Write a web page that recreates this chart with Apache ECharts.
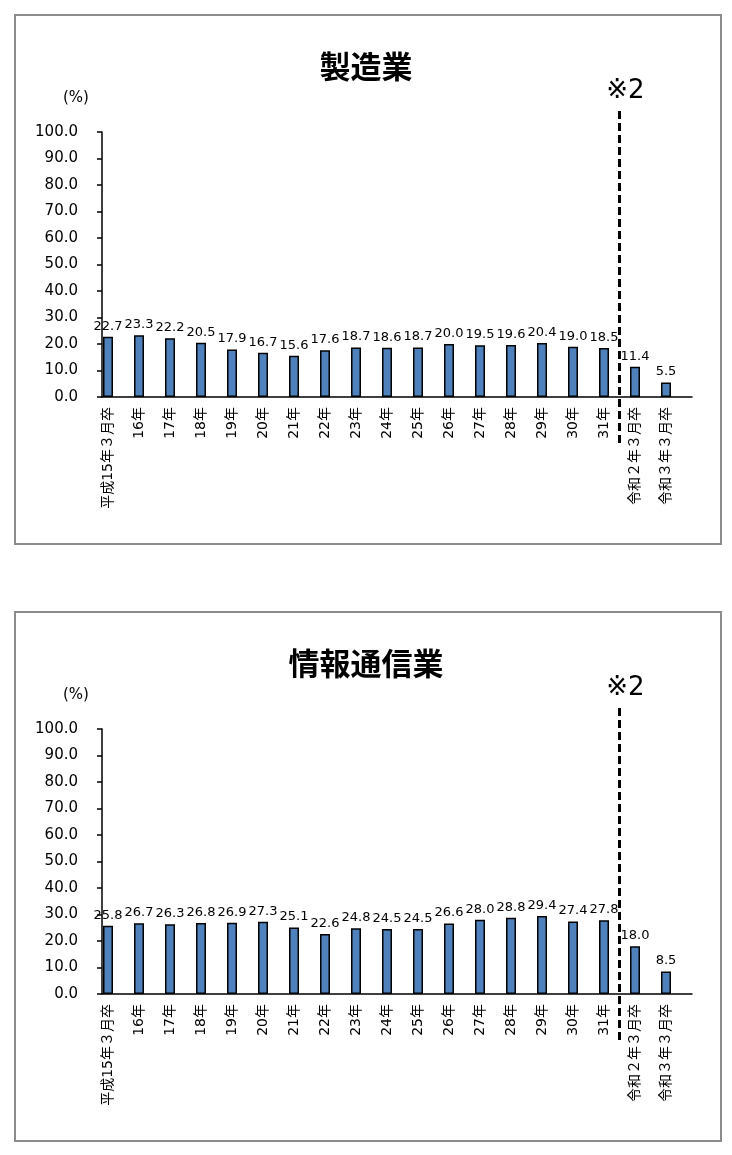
<!DOCTYPE html>
<html>
<head>
<meta charset="utf-8">
<script src="https://cdn.jsdelivr.net/npm/echarts@6/dist/echarts.min.js"></script>
<style>
  html, body { margin: 0; padding: 0; background: #fff; }
  #chart { position: absolute; left: 0; top: 0; width: 732px; height: 1155px; }
  .box { position: absolute; left: 14px; width: 708px; height: 531px; border: 2px solid #8c8c8c; box-sizing: border-box; pointer-events: none; }
</style>
</head>
<body>
<div id="chart"></div>
<div class="box" style="top:14px"></div>
<div class="box" style="top:611px"></div>
<script>
// 卒業年次
var categories = ['平成15年３月卒', '16年', '17年', '18年', '19年', '20年', '21年', '22年', '23年',
    '24年', '25年', '26年', '27年', '28年', '29年', '30年', '31年', '令和２年３月卒', '令和３年３月卒'];

// 製造業 (%)
var seizo = [22.7, 23.3, 22.2, 20.5, 17.9, 16.7, 15.6, 17.6, 18.7, 18.6, 18.7, 20.0, 19.5, 19.6, 20.4, 19.0, 18.5, 11.4, 5.5];

// 情報通信業 (%)
var joho = [25.8, 26.7, 26.3, 26.8, 26.9, 27.3, 25.1, 22.6, 24.8, 24.5, 24.5, 26.6, 28.0, 28.8, 29.4, 27.4, 27.8, 18.0, 8.5];

var panelTitles = ['製造業', '情報通信業'];
var yMin = 0, yMax = 100, yStep = 10;
var dividerAt = 17;   // ※2 の破線 (令和２年の手前)
var numFont = 'DejaVu Sans, Noto Sans CJK JP';

var myChart = echarts.init(document.getElementById('chart'));

var option = {
    backgroundColor: '#fff',
    animation: false,
    title: [],
    grid: [],
    xAxis: [],
    yAxis: [],
    series: []
};

function addPanel(p, values, dy) {
    var g = option.grid.length;
    // bars
    option.grid.push({left: 92.5, width: 589, top: 132 + dy, height: 265});
    // axis line only
    option.grid.push({left: 102, width: 590, top: 132 + dy, height: 265});
    // divider
    option.grid.push({left: 92.5, width: 589, top: 107 + dy, height: 336});

    option.title.push({
        text: panelTitles[p],
        left: 'center',
        top: 46 + dy,
        textStyle: {fontFamily: 'Noto Sans CJK JP', fontWeight: 'bold', fontSize: 31, color: '#000'}
    });
    option.title.push({
        text: '(%)',
        left: 58,
        top: 86 + dy,
        textStyle: {fontFamily: numFont, fontWeight: 'normal', fontSize: 15, color: '#000'}
    });

    option.xAxis.push({
        type: 'category',
        gridIndex: g,
        data: categories,
        axisLine: {show: false},
        axisTick: {show: false},
        axisLabel: {rotate: 90, margin: 10, fontSize: 14, color: '#000', fontFamily: numFont, interval: 0}
    });
    option.yAxis.push({
        type: 'value',
        gridIndex: g,
        min: yMin,
        max: yMax,
        interval: yStep,
        offset: -9.5,
        axisLine: {show: true, lineStyle: {color: '#000', width: 1.5}},
        axisTick: {show: true, length: 5, lineStyle: {color: '#000', width: 1.5}},
        splitLine: {show: false},
        axisLabel: {
            margin: 24, fontSize: 15, color: '#000', fontFamily: numFont,
            formatter: function (v) { return v.toFixed(1); }
        }
    });

    option.xAxis.push({
        type: 'value', gridIndex: g + 1, min: 0, max: 1,
        axisLine: {show: true, onZero: false, lineStyle: {color: '#000', width: 1.5}},
        axisTick: {show: false}, axisLabel: {show: false}, splitLine: {show: false}
    });
    option.yAxis.push({type: 'value', gridIndex: g + 1, min: 0, max: 1, show: false});

    option.xAxis.push({type: 'value', gridIndex: g + 2, min: 0, max: categories.length, show: false});
    option.yAxis.push({type: 'value', gridIndex: g + 2, min: 0, max: 1, show: false});

    option.series.push({
        type: 'bar',
        xAxisIndex: g,
        yAxisIndex: g,
        data: values,
        barWidth: 10,
        itemStyle: {color: '#4f81bd', borderColor: '#000', borderWidth: 1.5},
        label: {
            show: true, position: 'top', distance: 4,
            fontSize: 13, color: '#000', fontFamily: numFont,
            formatter: function (d) { return d.value.toFixed(1); }
        }
    });

    option.series.push({
        type: 'line',
        xAxisIndex: g + 2,
        yAxisIndex: g + 2,
        symbol: 'circle',
        symbolSize: 0,
        showSymbol: true,
        clip: false,
        lineStyle: {color: '#000', width: 3, type: [8, 4]},
        label: {show: false},
        data: [
            [dividerAt, 0],
            {
                value: [dividerAt, 1],
                label: {
                    show: true, position: 'top', distance: 3, offset: [6, 0],
                    formatter: '※2', fontSize: 26, color: '#000', fontFamily: numFont
                }
            }
        ]
    });
}

addPanel(0, seizo, 0);
addPanel(1, joho, 597);

myChart.setOption(option);

window.addEventListener('resize', function () {
    myChart.resize();
});
</script>
</body>
</html>
